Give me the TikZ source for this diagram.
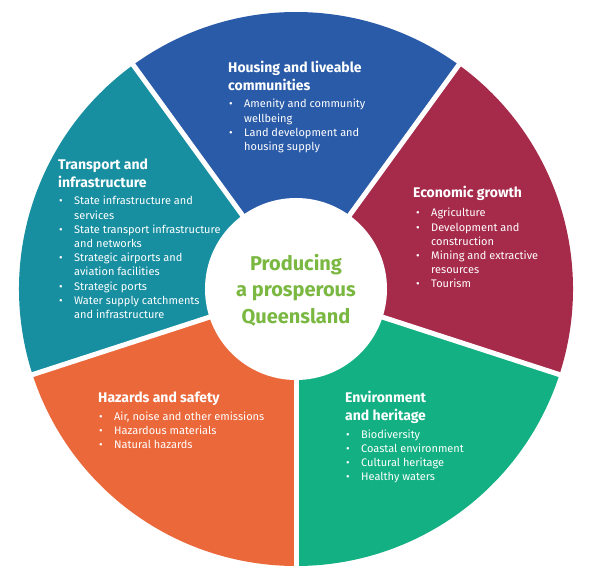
\documentclass[tikz,border=0pt]{standalone}
\usepackage{fontspec}
\setmainfont{Fira Sans}
\definecolor{cblue}{HTML}{2A5BA8}
\definecolor{cred}{HTML}{A62B4B}
\definecolor{cteal}{HTML}{178FA1}
\definecolor{corange}{HTML}{EB683A}
\definecolor{cgreen}{HTML}{12B082}
\definecolor{ctext}{HTML}{7AB842}
\newcommand{\bi}{\makebox[15pt][l]{\textbullet}}
\newcommand{\ci}{\hspace*{15pt}}
\tikzset{
  head/.style={anchor=base west, inner sep=0pt, text=white, align=left,
    font=\bfseries\fontsize{14}{18}\selectfont},
  items/.style={anchor=base west, inner sep=0pt, text=white, align=left,
    font=\fontsize{11}{14.2}\selectfont},
  gap/.style={white, line width=5pt}
}
\begin{document}
\begin{tikzpicture}[x=1pt,y=1pt]
\useasboundingbox (0,0) rectangle (589,579);
\fill[white] (0,0) rectangle (589,579);
\coordinate (c) at (296,290);
\def\R{277}
\fill[cgreen]  (c) -- ++(270:\R) arc[start angle=270,end angle=342,radius=\R] -- cycle;
\fill[cred]    (c) -- ++(-18:\R) arc[start angle=-18,end angle=54,radius=\R] -- cycle;
\fill[cblue]   (c) -- ++(54:\R) arc[start angle=54,end angle=126,radius=\R] -- cycle;
\fill[cteal]   (c) -- ++(126:\R) arc[start angle=126,end angle=198,radius=\R] -- cycle;
\fill[corange] (c) -- ++(198:\R) arc[start angle=198,end angle=270,radius=\R] -- cycle;
\foreach \a in {54,126,198,270,342} \draw[gap] (c) -- ++(\a:282);
\fill[white] (c) circle[radius=91];

\node[align=center, inner sep=0pt, text=ctext, font=\bfseries\fontsize{20}{26.5}\selectfont] (centre) at (296,289) {Producing\\a prosperous\\Queensland};

% anchor base = baseline of the last line
\node[head] (hh) at (228,488) {Housing and liveable\\communities};
\node[items] (hi) at (229,428.4) {\bi Amenity and community\\\ci wellbeing\\\bi Land development and\\\ci housing supply};

\node[head] (th) at (58,391) {Transport and\\infrastructure};
\node[items] (ti) at (59,260.4) {\bi State infrastructure and\\\ci services\\\bi State transport infrastructure\\\ci and networks\\\bi Strategic airports and\\\ci aviation facilities\\\bi Strategic ports\\\bi Water supply catchments\\\ci and infrastructure};

\node[head] (eh) at (413,381) {Economic growth};
\node[items] (ei) at (416,291) {\bi Agriculture\\\bi Development and\\\ci construction\\\bi Mining and extractive\\\ci resources\\\bi Tourism};

\node[head] (zh) at (98,177) {Hazards and safety};
\node[items] (zi) at (99,130.6) {\bi Air, noise and other emissions\\\bi Hazardous materials\\\bi Natural hazards};

\node[head] (gh) at (345,159) {Environment\\and heritage};
\node[items] (gi) at (346,98.4) {\bi Biodiversity\\\bi Coastal environment\\\bi Cultural heritage\\\bi Healthy waters};
\end{tikzpicture}
\end{document}
